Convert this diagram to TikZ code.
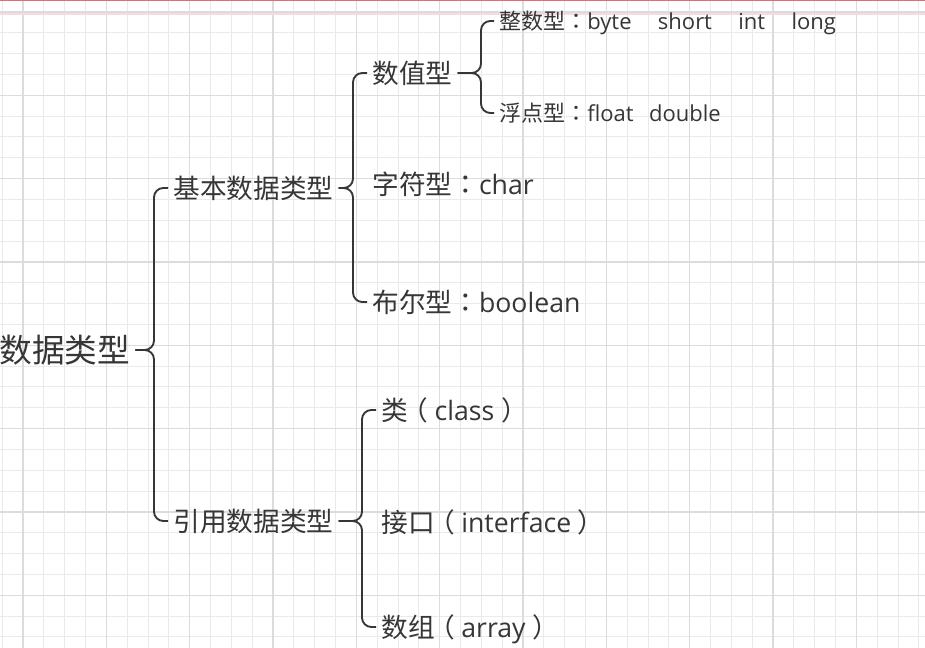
\documentclass[tikz,border=0pt]{standalone}
\usepackage{fontspec}
\setmainfont{Noto Sans CJK SC}
\newfontfamily\latinsans{Open Sans}
\newfontfamily\midcolon{Noto Sans CJK TC}
\definecolor{ink}{HTML}{363636}
\definecolor{gridlight}{HTML}{EAEAEA}
\definecolor{griddark}{HTML}{DCDCDC}
\definecolor{edgered}{HTML}{E06C7A}
\tikzset{
    word/.style={anchor=west, inner sep=2pt, outer sep=2pt, text=ink},
    rootword/.style={word, font=\fontsize{24.5}{28}\selectfont, text height=19.6pt, text depth=1pt},
    midword/.style={word, font=\fontsize{20}{24}\selectfont, text height=16pt, text depth=.8pt},
    smallword/.style={word, font=\fontsize{16.5}{20}\selectfont, text height=13.2pt, text depth=.7pt},
    curly/.style={draw=ink, line width=1.4pt, rounded corners=7pt},
}

\begin{document}
\begin{tikzpicture}[x=0.75pt, y=-0.75pt]
\useasboundingbox (0,0) rectangle (925,648);
\fill[white] (0,0) rectangle (925,648);
\foreach \k in {0,...,44} {
    \draw[gridlight, line width=.75pt] ({2.2+20.833*\k},0) -- ({2.2+20.833*\k},648);
}
\foreach \k in {0,...,30} {
    \draw[gridlight, line width=.75pt] (0,{12+20.833*\k}) -- (925,{12+20.833*\k});
}
\foreach \k in {0,...,10} {
    \draw[griddark, line width=.9pt] ({23+83.333*\k},0) -- ({23+83.333*\k},648);
}
\foreach \k in {0,...,7} {
    \draw[griddark, line width=.9pt] (0,{12+83.333*\k}) -- (925,{12+83.333*\k});
}
\draw[edgered, line width=1.5pt] (0,0.5) -- (925,0.5);
\draw[edgered!25, line width=.8pt] (0,14) -- (925,14);

\node[rootword] (types) at (-6,350) {数据类型};
\node[midword] (basic) at (168,188) {基本数据类型};
\node[midword] (reftype) at (168,521) {引用数据类型};
\node[midword] (numeric) at (367,73) {数值型};
\node[midword] (chartype) at (367,184) {字符型{\midcolon ：}{\latinsans char}};
\node[midword] (booltype) at (367,302) {布尔型{\midcolon ：}{\latinsans boolean}};
\node[smallword] (integer) at (494,21) {整数型{\midcolon ：}{\latinsans byte\hspace{1.2em}short\hspace{1.2em}int\hspace{1.2em}long}};
\node[smallword] (floating) at (494,113) {浮点型{\midcolon ：}{\latinsans float\hspace{.7em}double}};
\node[midword] (classtype) at (376,410) {类\hspace{-.25em}（\hspace{.25em}{\latinsans class}\hspace{.25em}）};
\node[midword] (interface) at (376,522) {接口\hspace{-.25em}（\hspace{.25em}{\latinsans interface}\hspace{.25em}）};
\node[midword] (arraytype) at (376,627) {数组\hspace{-.25em}（\hspace{.25em}{\latinsans array}\hspace{.25em}）};

\draw[curly] (types.east) -| ([shift={(-14,0)}]basic.west) -- (basic.west);
\draw[curly] (types.east) -| ([shift={(-14,0)}]reftype.west) -- (reftype.west);
\draw[curly] (basic.east) -| ([shift={(-14,0)}]numeric.west) -- (numeric.west);
\draw[curly] (basic.east) -| ([shift={(-14,0)}]booltype.west) -- (booltype.west);
\draw[curly] (numeric.east) -| ([shift={(-13,0)}]integer.west) -- (integer.west);
\draw[curly] (numeric.east) -| ([shift={(-13,0)}]floating.west) -- (floating.west);
\draw[curly] (reftype.east) -| ([shift={(-14,0)}]classtype.west) -- (classtype.west);
\draw[curly] (reftype.east) -| ([shift={(-14,0)}]arraytype.west) -- (arraytype.west);
\end{tikzpicture}
\end{document}
